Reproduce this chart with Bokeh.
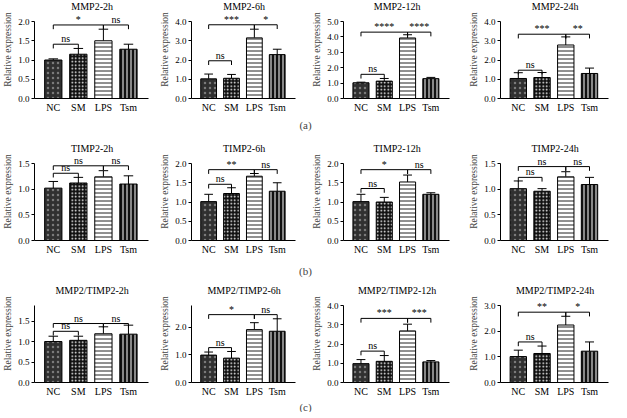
import numpy as np
from bokeh.plotting import figure
from bokeh.layouts import column, row
from bokeh.models import (ColumnDataSource, Range1d, FixedTicker, LabelSet, Label,
                          PrintfTickFormatter)
from bokeh.embed import file_html
from bokeh.resources import INLINE

groups = ["NC", "SM", "LPS", "Tsm"]

# (a) MMP2
mmp2_titles = ["MMP2-2h", "MMP2-6h", "MMP2-12h", "MMP2-24h"]
mmp2_mean = [[1.00, 1.15, 1.50, 1.28], [1.02, 1.05, 3.15, 2.28],
             [1.02, 1.13, 3.93, 1.29], [1.04, 1.09, 2.78, 1.30]]
mmp2_err = [[0.03, 0.15, 0.30, 0.13], [0.25, 0.20, 0.45, 0.28],
            [0.04, 0.17, 0.21, 0.08], [0.30, 0.26, 0.42, 0.28]]
mmp2_ymax = [2.0, 4.0, 5.0, 4.0]
mmp2_step = [0.5, 1.0, 1.0, 1.0]
mmp2_ns_y = [1.41, 1.96, 1.57, 1.47]
mmp2_top_y = [1.91, 3.83, 4.31, 3.34]
mmp2_sig = [["*", "ns"], ["***", "*"], ["****", "****"], ["***", "**"]]

# (b) TIMP2
timp2_titles = ["TIMP2-2h", "TIMP2-6h", "TIMP2-12h", "TIMP2-24h"]
timp2_mean = [[1.02, 1.12, 1.24, 1.10], [1.01, 1.22, 1.67, 1.28],
              [1.01, 1.00, 1.52, 1.20], [1.01, 0.96, 1.24, 1.09]]
timp2_err = [[0.13, 0.11, 0.12, 0.16], [0.19, 0.15, 0.07, 0.22],
             [0.19, 0.12, 0.18, 0.04], [0.15, 0.05, 0.10, 0.14]]
timp2_ymax = [1.5, 2.0, 2.0, 1.5]
timp2_step = [0.5, 0.5, 0.5, 0.5]
timp2_ns_y = [1.31, 1.46, 1.35, 1.23]
timp2_top_y = [1.455, 1.84, 1.84, 1.44]
timp2_sig = [["ns", "ns"], ["**", "ns"], ["*", "ns"], ["ns", "ns"]]

# (c) MMP2/TIMP2
ratio_titles = ["MMP2/TIMP2-2h", "MMP2/TIMP2-6h", "MMP2/TIMP2-12h", "MMP2/TIMP2-24h"]
ratio_mean = [[1.00, 1.03, 1.19, 1.18], [0.99, 0.88, 1.91, 1.85],
              [0.98, 1.10, 2.68, 1.07], [1.01, 1.13, 2.24, 1.22]]
ratio_err = [[0.13, 0.10, 0.17, 0.22], [0.11, 0.24, 0.25, 0.45],
             [0.21, 0.30, 0.35, 0.07], [0.25, 0.29, 0.34, 0.36]]
ratio_ymax = [1.88, 2.78, 4.0, 3.0]
ratio_step = [0.5, 1.0, 1.0, 1.0]
ratio_ns_y = [1.25, 1.26, 1.63, 1.58]
ratio_top_y = [1.44, 2.45, 3.33, 2.74]
ratio_sig = [["ns", "ns"], ["*", "ns"], ["***", "***"], ["**", "*"]]

# bar styles, one per group
bar_fill = ["#303030", "#111111", "#ffffff", "#111111"]
bar_hatch = ["dot", "dot", "horizontal_line", "vertical_line"]
bar_hatch_color = ["#7a7a7a", "#ffffff", "#222222", "#ffffff"]
bar_hatch_scale = [5, 3.5, 4, 4]

FONT = "Liberation Serif"
col_width = [152, 150, 155, 154]
col_left = [30, 39, 41, 43]
col_right = [4, 7, 8, 3]

# pixel layout of a panel: frame 0..98, ymax drawn at 21, title at 6
PANEL_H = 116
FRAME_H = 98
AXIS_H = 77
TITLE_Y = 6


def panel(k, title, means, errs, ymax, step, ns_y, top_y, sig):
    p = figure(width=col_width[k], height=PANEL_H, x_range=Range1d(0.25, 4.8),
               y_range=Range1d(0, ymax * FRAME_H / AXIS_H), output_backend="svg",
               toolbar_location=None, title=None, min_border_left=col_left[k],
               min_border_right=col_right[k], min_border_top=0,
               min_border_bottom=PANEL_H - FRAME_H)
    p.outline_line_color = None
    p.grid.visible = False
    p.add_layout(Label(x=2.55, y=ymax * (FRAME_H - TITLE_Y) / AXIS_H, text=title,
                       text_align="center", text_baseline="middle", text_font=FONT,
                       text_font_size="10px", text_color="black"))

    xs = np.arange(1, 5)
    means = np.array(means)
    tops = means + np.array(errs)

    # error bars (upper only) with caps
    p.segment(x0=xs, y0=means, x1=xs, y1=tops, line_color="black", line_width=1)
    p.segment(x0=xs - 0.19, y0=tops, x1=xs + 0.19, y1=tops, line_color="black", line_width=1)

    src = ColumnDataSource(dict(x=xs, top=means, fill=bar_fill, hatch=bar_hatch,
                                hcolor=bar_hatch_color, hscale=bar_hatch_scale))
    p.vbar(x="x", top="top", bottom=0, width=0.69, source=src, fill_color="fill",
           hatch_pattern="hatch", hatch_color="hcolor", hatch_scale="hscale",
           hatch_weight=1, line_color="black", line_width=1)

    # significance brackets
    d = 0.055 * ymax
    p.multi_line(xs=[[1, 1, 2, 2], [1, 1, 3, 3], [3, 3, 4, 4]],
                 ys=[[ns_y - d, ns_y, ns_y, ns_y - d],
                     [top_y - d, top_y, top_y, top_y - d],
                     [top_y - d, top_y, top_y, top_y - d]],
                 line_color="black", line_width=1)
    lab = ColumnDataSource(dict(x=[1.5, 2.0, 3.5], y=[ns_y, top_y, top_y],
                                t=["ns", sig[0], sig[1]]))
    p.add_layout(LabelSet(x="x", y="y", text="t", source=lab, text_align="center",
                          text_baseline="bottom", y_offset=0, text_font=FONT,
                          text_font_size="10px", text_color="black"))

    p.xaxis.ticker = FixedTicker(ticks=list(xs))
    p.xaxis.major_label_overrides = {int(i + 1): g for i, g in enumerate(groups)}
    p.xaxis.major_tick_line_color = None
    p.xaxis.major_tick_out = 0
    p.xaxis.major_tick_in = 0
    p.xaxis.minor_tick_line_color = None
    p.xaxis.major_label_standoff = 3
    p.xaxis.major_label_text_font_size = "10px"

    p.yaxis.ticker = FixedTicker(ticks=list(np.arange(0, ymax + 1e-9, step)))
    p.yaxis.bounds = (0, ymax)
    p.yaxis.formatter = PrintfTickFormatter(format="%.1f")
    p.yaxis.axis_label = "Relative expression"
    p.yaxis.axis_label_text_font = FONT
    p.yaxis.axis_label_text_font_size = "9.5px"
    p.yaxis.axis_label_text_font_style = "normal"
    p.yaxis.axis_label_standoff = 2
    p.yaxis.major_tick_in = 0
    p.yaxis.major_tick_out = 3
    p.yaxis.minor_tick_line_color = None
    p.yaxis.major_label_standoff = 2
    p.yaxis.major_label_text_font_size = "9px"

    for ax in (p.xaxis, p.yaxis):
        ax.axis_line_color = "black"
        ax.major_label_text_font = FONT
        ax.major_label_text_color = "black"
    return p


def strip(text, h, ypos):
    s = figure(width=611, height=h, x_range=Range1d(0, 611), y_range=Range1d(0, h),
               output_backend="svg", toolbar_location=None, title=None, min_border=0,
               x_axis_location=None, y_axis_location=None)
    s.outline_line_color = None
    s.grid.visible = False
    s.add_layout(Label(x=305, y=ypos, text=text, text_align="center",
                       text_baseline="middle", text_font=FONT, text_font_size="11px"))
    return s


rows = []
for titles, mean, err, ymax, step, ns_y, top_y, sig in [
        (mmp2_titles, mmp2_mean, mmp2_err, mmp2_ymax, mmp2_step, mmp2_ns_y, mmp2_top_y, mmp2_sig),
        (timp2_titles, timp2_mean, timp2_err, timp2_ymax, timp2_step, timp2_ns_y, timp2_top_y, timp2_sig),
        (ratio_titles, ratio_mean, ratio_err, ratio_ymax, ratio_step, ratio_ns_y, ratio_top_y, ratio_sig)]:
    rows.append(row(*[panel(k, titles[k], mean[k], err[k], ymax[k], step[k], ns_y[k],
                            top_y[k], sig[k]) for k in range(4)]))

layout = column(rows[0], strip("(a)", 26, 18),
                rows[1], strip("(b)", 26, 14),
                rows[2], strip("(c)", 12, 6))

open("out.html", "w").write(file_html(layout, INLINE))
